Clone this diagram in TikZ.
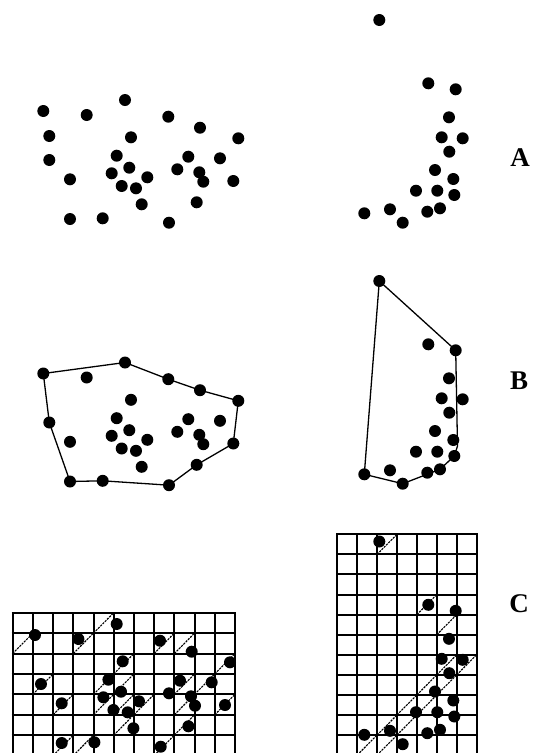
\documentclass[tikz,border=0pt]{standalone}
\usepackage{fontspec}
\setmainfont{Liberation Serif}
\begin{document}
\begin{tikzpicture}[x=1pt,y=-1pt,
  dot/.style={fill=black},
  hull/.style={draw=black,line width=1.3pt,line join=round},
  gridline/.style={draw=black,line width=2pt},
  diag/.style={draw=black,line width=1.1pt,dash pattern=on 2.2pt off 1pt},
  lab/.style={font=\fontsize{27}{27}\selectfont\bfseries,inner sep=0pt}]
\useasboundingbox (0,0) rectangle (546,753);
\clip (0,0) rectangle (546,753);
\def\dr{6}
% point sets (panel A coordinates)
\def\Aleft{125/100, 43.3/111, 86.7/115, 168.3/116.7, 200/127.7, 131/137.3, 238.3/138.3, 49.3/160, 116.7/155.7, 188.3/156.7, 220/158.3, 129.3/167.7, 177.3/169.3, 111.7/173.3, 199.3/172.3, 70/179.3, 147.3/177.3, 203.3/181.7, 233.3/181, 121.7/186, 136/188.3, 196.7/202.3, 141.7/204.3, 70/219, 102.7/218.3, 169/222.7}
\def\Aright{379.3/20, 428.3/83.3, 455.7/89.3, 449/117.3, 441.7/137.3, 462.7/138.3, 449.3/151.7, 435/170, 453.3/179, 416/190.7, 437.3/190.7, 454.3/195, 390/209.3, 364.3/213.3, 427.3/211.7, 440/208.3, 402.7/222.7}

% ---------- Panel A ----------
\foreach \px/\py in \Aleft \fill[dot] (\px,\py) circle (\dr);
\fill[dot] (49.3,136) circle (\dr);
\foreach \px/\py in \Aright \fill[dot] (\px,\py) circle (\dr);
\node[lab] (labA) at (520,158) {A};

% ---------- Panel B ----------
\begin{scope}[shift={(0,262.5)}]
  \draw[hull] (43.3,111) -- (125,100) -- (168.3,116.7) -- (200,127.7) -- (238.3,138.3)
    -- (233.3,181) -- (196.7,202.3) -- (169,222.7) -- (102.7,218.3) -- (70,219) -- (49.3,160) -- cycle;
  \foreach \px/\py in \Aleft \fill[dot] (\px,\py) circle (\dr);
\end{scope}
\begin{scope}[shift={(0,261)}]
  \draw[hull] (379.3,20) -- (455.7,89.3) -- (457.5,185) -- (454.3,195) -- (440,208.3)
    -- (402.7,222.7) -- (364.3,213.3) -- cycle;
  \foreach \px/\py in \Aright \fill[dot] (\px,\py) circle (\dr);
\end{scope}
\node[lab] (labB) at (519,381) {B};

% ---------- Panel C left ----------
\def\gx{12.7} \def\gw{20.21} \def\gy{612.7} \def\gh{20.4}
\foreach \i in {0,...,11} \draw[gridline] ({\gx+\i*\gw},\gy) -- ({\gx+\i*\gw},{\gy+8*\gh});
\foreach \j in {0,...,7} \draw[gridline] ({\gx-1},{\gy+\j*\gh}) -- ({\gx+11*\gw+1},{\gy+\j*\gh});
\foreach \c/\r in {0/1,3/1,4/0,7/1,8/1,5/2,10/2,1/3,4/3,5/3,8/3,9/3,2/4,4/4,5/4,6/4,8/4,10/4,5/5,8/5,2/6,3/6,7/6}
  \draw[diag] ({\gx+\c*\gw},{\gy+(\r+1)*\gh}) -- ({\gx+(\c+1)*\gw},{\gy+\r*\gh});
\begin{scope}[shift={(-8.3,524)}]
  \foreach \px/\py in \Aleft \fill[dot] (\px,\py) circle (\dr);
\end{scope}

% ---------- Panel C right ----------
\def\hx{337.3} \def\hw{19.91} \def\hy{534.3} \def\hh{20.07}
\foreach \i in {0,...,7} \draw[gridline] ({\hx+\i*\hw},\hy) -- ({\hx+\i*\hw},{\hy+12*\hh});
\foreach \j in {0,...,11} \draw[gridline] ({\hx-1},{\hy+\j*\hh}) -- ({\hx+7*\hw+1},{\hy+\j*\hh});
\foreach \c/\r in {2/0,4/3,5/4,1/10,2/9,3/8,4/7,5/6,2/10,3/9,4/8,5/7,6/6}
  \draw[diag] ({\hx+\c*\hw},{\hy+(\r+1)*\hh}) -- ({\hx+(\c+1)*\hw},{\hy+\r*\hh});
\begin{scope}[shift={(0,521.5)}]
  \foreach \px/\py in \Aright \fill[dot] (\px,\py) circle (\dr);
\end{scope}
\node[lab] (labC) at (519,604) {C};
\end{tikzpicture}
\end{document}
